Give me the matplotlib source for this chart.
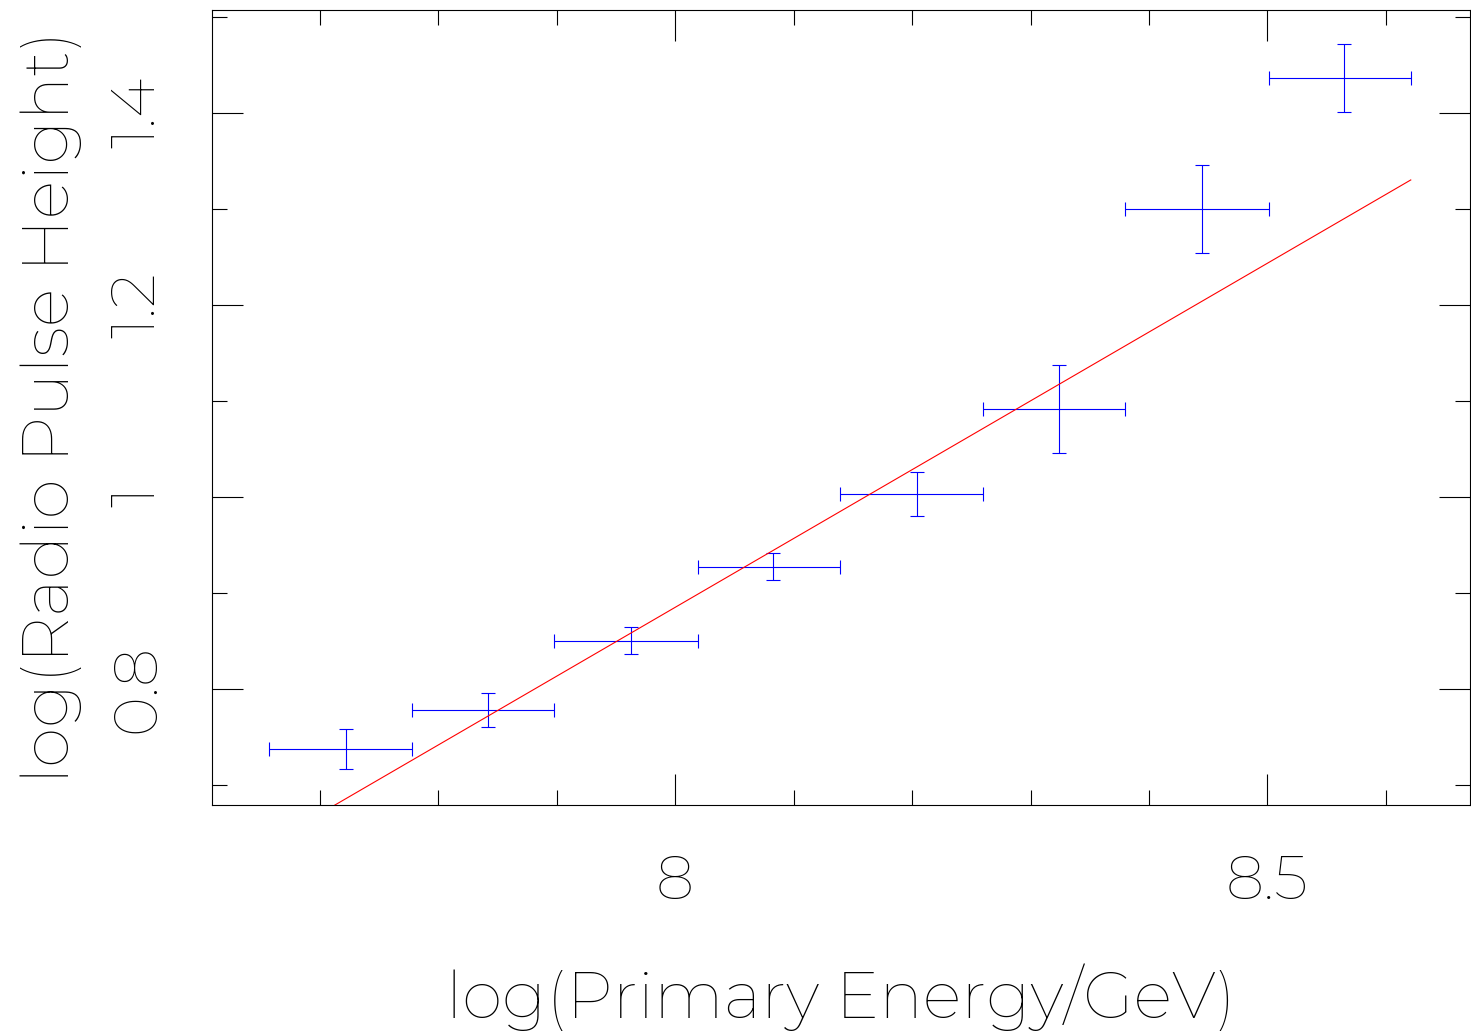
import matplotlib
matplotlib.use("Agg")
import matplotlib.pyplot as plt
from matplotlib.ticker import MultipleLocator, FixedLocator

plt.rcParams['font.family'] = ['Montserrat', 'Inter', 'DejaVu Sans']
plt.rcParams['font.weight'] = 100

# energy bins (log E/GeV) and mean energy in each bin
bin_lo = [7.657, 7.778, 7.898, 8.019, 8.139, 8.260, 8.380, 8.501]
bin_hi = [7.778, 7.898, 8.019, 8.139, 8.260, 8.380, 8.501, 8.621]
energy = [7.722, 7.842, 7.963, 8.083, 8.204, 8.324, 8.445, 8.565]
# log(radio pulse height) and its error
pulse = [0.7375, 0.778, 0.850, 0.927, 1.003, 1.0914, 1.300, 1.436]
pulse_err = [0.0208, 0.018, 0.014, 0.014, 0.023, 0.046, 0.046, 0.0354]

# linear fit line
fit_x = [7.657, 8.621]
fit_y = [0.639, 1.330]

xerr = [[e - lo for e, lo in zip(energy, bin_lo)],
        [hi - e for e, hi in zip(energy, bin_hi)]]

W, H = 1471, 1033
fig = plt.figure(figsize=(W / 100, H / 100), dpi=100)
ax = fig.add_axes([212 / W, 1 - 805 / H, 1258 / W, 795 / H])

ax.errorbar(energy, pulse, xerr=xerr, yerr=pulse_err, fmt='none',
            ecolor='blue', elinewidth=0.8, capsize=5, capthick=0.8)
ax.plot(fit_x, fit_y, color='red', lw=0.8)

ax.set_xlim(7.609, 8.671)
ax.set_ylim(0.679, 1.507)

ax.xaxis.set_major_locator(FixedLocator([8.0, 8.5]))
ax.xaxis.set_minor_locator(MultipleLocator(0.1))
ax.yaxis.set_major_locator(FixedLocator([0.8, 1.0, 1.2, 1.4]))
ax.yaxis.set_minor_locator(MultipleLocator(0.1))
ax.set_xticklabels(['8', '8.5'])
ax.set_yticklabels(['0.8', '1', '1.2', '1.4'], rotation=90, va='center')

ax.tick_params(which='both', direction='in', top=True, right=True,
               width=0.8, labelsize=44)
ax.tick_params(which='major', length=22)
ax.tick_params(which='minor', length=11)
ax.tick_params(axis='x', pad=35)
ax.tick_params(axis='y', pad=33)
for s in ax.spines.values():
    s.set_linewidth(0.8)

fig.text(841 / W, 1 - 1018 / H, 'log(Primary Energy/GeV)', ha='center',
         va='baseline', fontsize=47)
fig.text(82 / W, 1 - 407 / H, 'log(Radio Pulse Height)', ha='right',
         va='center', rotation=90, fontsize=47)

fig.savefig('out.png', dpi=100)
